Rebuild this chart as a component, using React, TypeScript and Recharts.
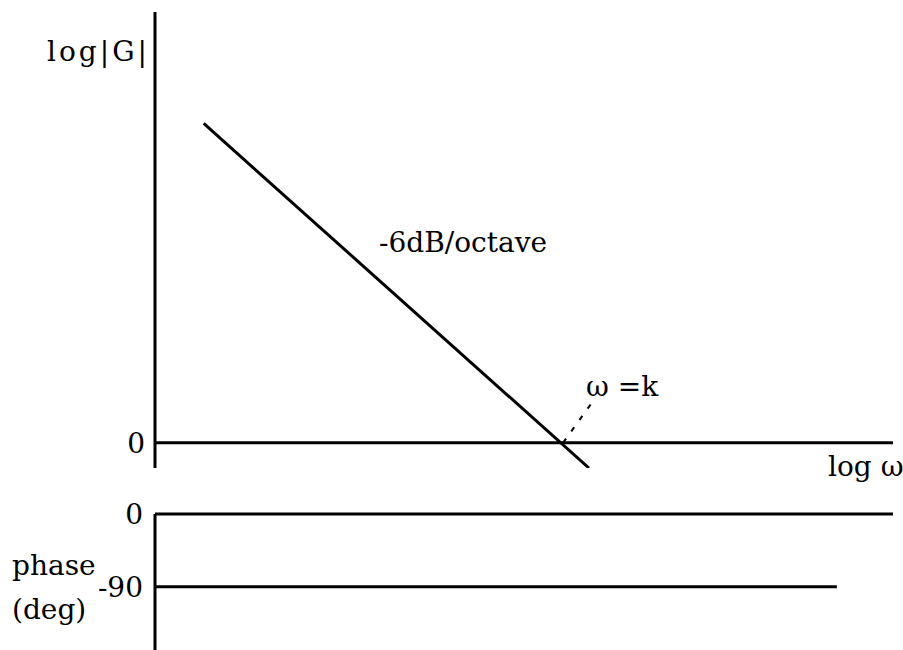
import React from 'react'
import { LineChart, Line, XAxis, YAxis, ReferenceLine } from 'recharts'

// log ω axis runs 0..10, magnitude in arbitrary log units, phase in degrees
const magnitude = [
  { w: 0.66, g: 12.6 },
  { w: 5.88, g: -1.0 },
]
const breakMarker = [
  { w: 5.53, g: 0 },
  { w: 5.93, g: 1.62 },
]
const phase = [
  { w: 0, p: -90 },
  { w: 9.24, p: -90 },
]
const magTicks = [0]
const phaseTicks = [0, -90]

const FONT = 'DejaVu Serif'
const INK = '#000'
const tickStyle = { fill: INK, fontSize: 28, fontFamily: FONT }

export default function App() {
  return (
    <div style={{ position: 'absolute', left: 0, top: 0, width: 903, height: 650, background: '#fff' }}>
      {/* magnitude plot */}
      <div style={{ position: 'absolute', left: 0, top: 0 }}>
        <LineChart width={903} height={480} margin={{ top: 12, right: 10, bottom: 12, left: 0 }}>
          <XAxis dataKey="w" type="number" domain={[0, 10]} hide allowDataOverflow />
          <YAxis
            type="number"
            domain={[-1, 17]}
            ticks={magTicks}
            interval={0}
            width={155}
            tickLine={false}
            tickSize={0}
            tickMargin={10}
            axisLine={{ stroke: INK, strokeWidth: 3 }}
            tick={tickStyle}
            allowDataOverflow
          />
          <ReferenceLine y={0} stroke={INK} strokeWidth={3} />
          <Line data={magnitude} dataKey="g" type="linear" stroke={INK} strokeWidth={3} dot={false} isAnimationActive={false} />
          <Line data={breakMarker} dataKey="g" type="linear" stroke={INK} strokeWidth={2} strokeDasharray="5 9" dot={false} isAnimationActive={false} />
        </LineChart>
      </div>

      {/* phase plot */}
      <div style={{ position: 'absolute', left: 0, top: 480 }}>
        <LineChart width={903} height={170} margin={{ top: 34, right: 10, bottom: 0, left: 0 }}>
          <XAxis dataKey="w" type="number" domain={[0, 10]} hide allowDataOverflow />
          <YAxis
            type="number"
            domain={[-168, 0]}
            ticks={phaseTicks}
            interval={0}
            width={155}
            tickLine={false}
            tickSize={0}
            tickMargin={12}
            axisLine={{ stroke: INK, strokeWidth: 3 }}
            tick={tickStyle}
            allowDataOverflow
          />
          <ReferenceLine y={0} stroke={INK} strokeWidth={3} />
          <Line data={phase} dataKey="p" type="linear" stroke={INK} strokeWidth={3} dot={false} isAnimationActive={false} />
        </LineChart>
      </div>

      {/* annotations */}
      <svg width={903} height={650} style={{ position: 'absolute', left: 0, top: 0, pointerEvents: 'none' }}>
        <g fontFamily={FONT} fontSize={28} fill={INK}>
          <text x={47} y={61} letterSpacing={3}>log|G|</text>
          <text x={379} y={252}>-6dB/octave</text>
          <text x={586} y={396}>ω =k</text>
          <text x={828} y={476}>log ω</text>
          <text x={12} y={575}>phase</text>
          <text x={12} y={619}>(deg)</text>
        </g>
      </svg>
    </div>
  )
}
